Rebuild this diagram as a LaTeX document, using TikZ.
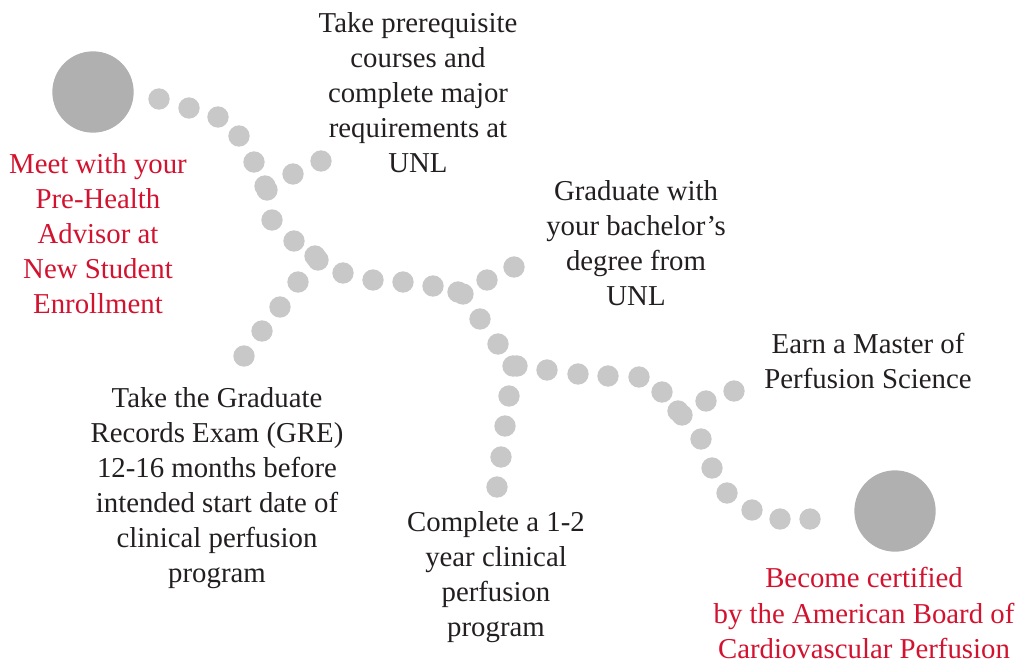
\documentclass[tikz,border=0pt]{standalone}
\usepackage{fontspec}
\setmainfont{Liberation Serif}
\usepackage{tikz}
\usetikzlibrary{positioning}
\definecolor{dotgray}{HTML}{C8C8C8}
\definecolor{biggray}{HTML}{B0B0B0}
\definecolor{inkred}{HTML}{D2122E}
\definecolor{ink}{HTML}{231F20}

\begin{document}
\begin{tikzpicture}[x=0.75pt,y=-0.75pt,
  dotmark/.style={fill=dotgray,draw=none},
  bigdot/.style={circle,fill=biggray,draw=none,minimum size=61pt,inner sep=0pt},
  lbl/.style={align=center,text=ink,font=\fontsize{21.6}{26.3}\selectfont,inner sep=0pt},
  redlbl/.style={lbl,text=inkred}]
\useasboundingbox (0,0) rectangle (1019,664);
\def\rdot{8pt}
%% Start and end circles
\node[bigdot] (start) at (93,92) {};
\node[bigdot] (finish) at (895,511) {};
%% Main trail
\foreach \x/\y in {159/99, 189/108, 218/117, 239/136, 254/162, 265/186, 267/190,
                   272/220, 294/241, 315/256, 318/260, 343/273, 373/280, 403/282,
                   433/286, 458/292, 463/294, 480/319, 498/344, 513/366, 517/366,
                   547/370, 578/374, 608/376, 639/377, 662/392, 678/411, 682/415,
                   701/439, 712/468, 727/493, 752/510, 780/519, 810/519} {
  \fill[dotmark] (\x,\y) circle (\rdot);
}
%% Side branches
\foreach \x/\y in {293/174, 321/161,                 % prerequisites
                   298/282, 280/307, 262/331, 244/356, % GRE
                   487/280, 514/267,                 % bachelor
                   509/396, 505/426, 501/457, 497/487, % clinical
                   706/401, 734/391} {               % master
  \fill[dotmark] (\x,\y) circle (\rdot);
}
%% Labels
\node[redlbl] (meet) at (98,234)
  {Meet with your\\Pre-Health\\Advisor at\\New Student\\Enrollment};
\node[lbl] (prereq) at (418,93)
  {Take prerequisite\\courses and\\complete major\\requirements at\\UNL};
\node[lbl] (bachelor) at (636,243)
  {Graduate with\\your bachelor’s\\degree from\\UNL};
\node[lbl] (gre) at (217,488)
  {Take the Graduate\\Records Exam (GRE)\\12-16 months before\\intended start date of\\clinical perfusion\\program};
\node[lbl] (clinical) at (496,577)
  {Complete a 1-2\\year clinical\\perfusion\\program};
\node[lbl] (master) at (868,361)
  {Earn a Master of\\Perfusion Science};
\node[redlbl] (certified) at (864,613)
  {Become certified\\by the American Board of\\Cardiovascular Perfusion};
\end{tikzpicture}
\end{document}
